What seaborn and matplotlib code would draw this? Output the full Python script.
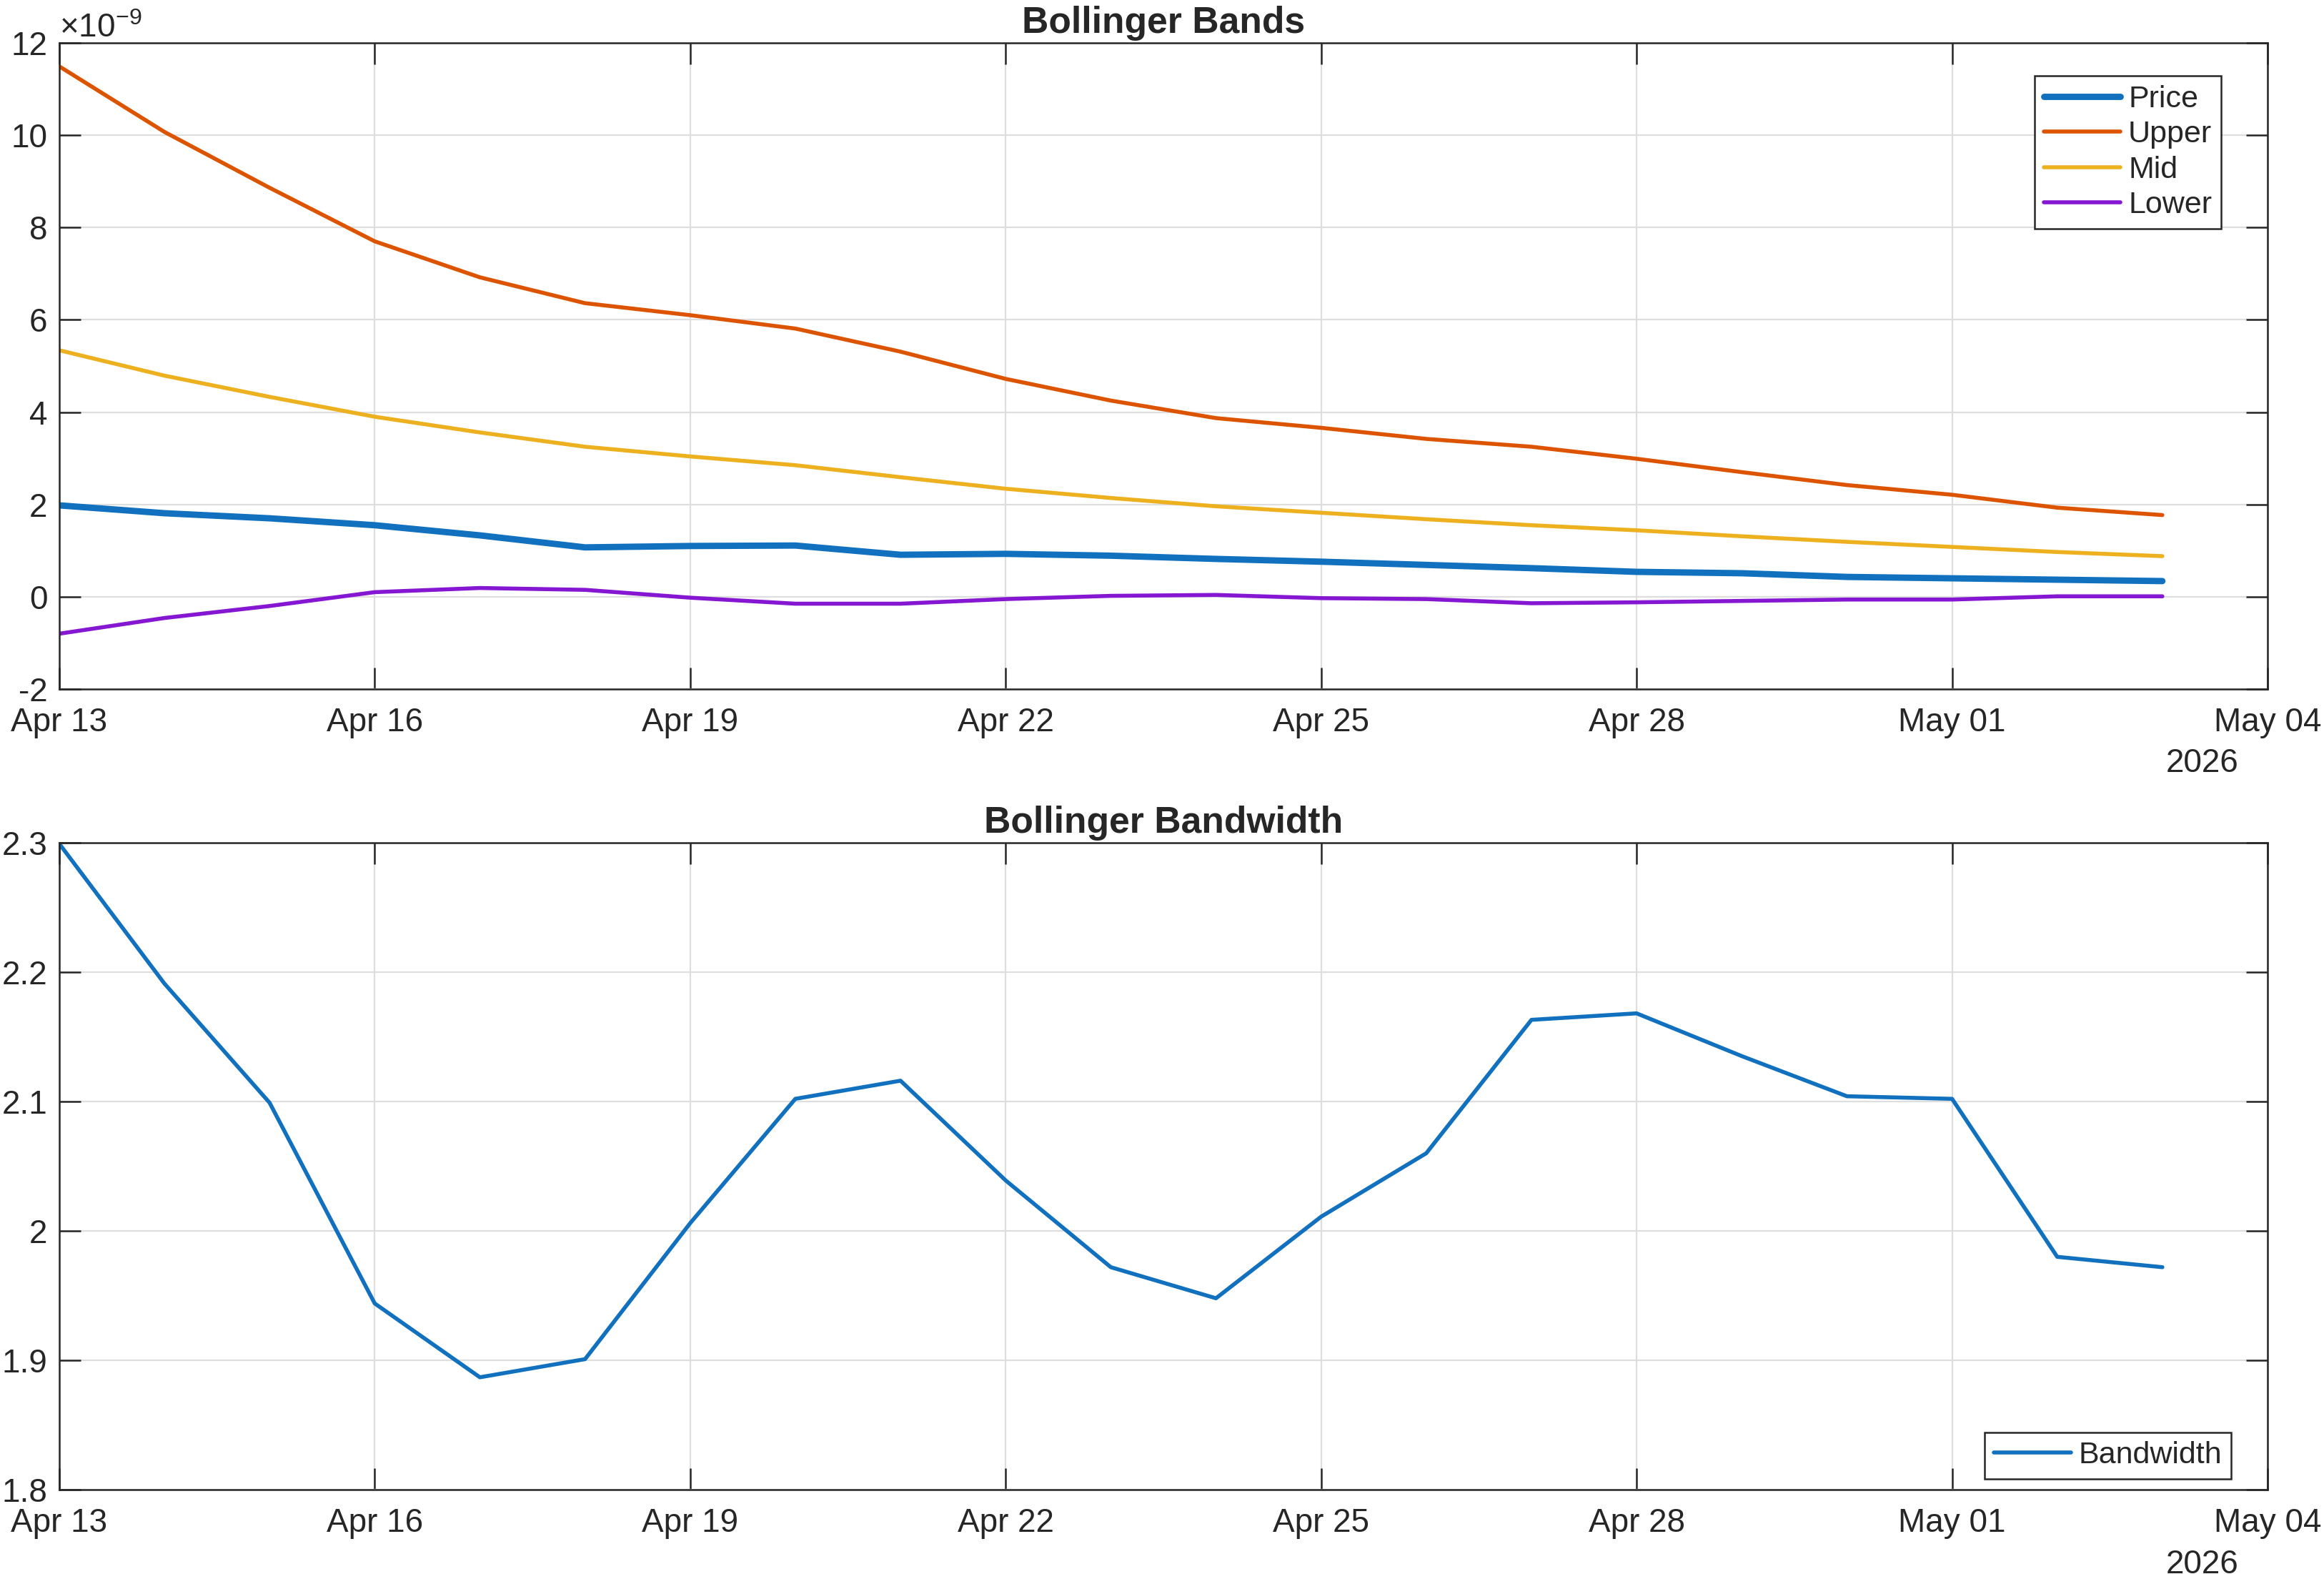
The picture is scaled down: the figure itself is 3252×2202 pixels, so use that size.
import numpy as np
import pandas as pd
import matplotlib
matplotlib.use("Agg")
import matplotlib.pyplot as plt
import matplotlib.dates as mdates
from matplotlib.ticker import ScalarFormatter, FuncFormatter, MultipleLocator
import seaborn as sns

# Data (band values in units of 1e-9)
dates = pd.date_range("2026-04-13", "2026-05-03", freq="D")
price = [1.98, 1.81, 1.70, 1.55, 1.33, 1.07, 1.10, 1.11, 0.91, 0.93, 0.89,
         0.82, 0.76, 0.69, 0.62, 0.54, 0.51, 0.43, 0.40, 0.37, 0.34]
upper = [11.49, 10.07, 8.86, 7.70, 6.92, 6.36, 6.10, 5.81, 5.31, 4.72, 4.25,
         3.87, 3.66, 3.42, 3.25, 2.99, 2.70, 2.42, 2.21, 1.93, 1.77]
mid = [5.34, 4.79, 4.33, 3.90, 3.56, 3.25, 3.04, 2.85, 2.59, 2.34, 2.14,
       1.96, 1.82, 1.68, 1.55, 1.44, 1.31, 1.19, 1.08, 0.97, 0.88]
lower = [-0.80, -0.46, -0.20, 0.10, 0.19, 0.15, -0.02, -0.15, -0.15, -0.05, 0.02,
         0.04, -0.03, -0.05, -0.14, -0.12, -0.09, -0.06, -0.06, 0.01, 0.01]
bandwidth = [2.299, 2.191, 2.099, 1.944, 1.887, 1.901, 2.006, 2.102, 2.116, 2.039, 1.972,
             1.948, 2.011, 2.060, 2.163, 2.168, 2.135, 2.104, 2.102, 1.980, 1.972]

scale = 1e-9
df = pd.DataFrame({
    "date": dates,
    "Price": np.array(price) * scale,
    "Upper": np.array(upper) * scale,
    "Mid": np.array(mid) * scale,
    "Lower": np.array(lower) * scale,
    "Bandwidth": bandwidth,
})

colors = {"Price": "#1171BE", "Upper": "#DD5400", "Mid": "#EDB120",
          "Lower": "#8516D1", "Bandwidth": "#1171BE"}


class ExpFormatter(ScalarFormatter):
    # keep the x10^-9 offset label but print plain ticks with a hyphen minus
    def __call__(self, x, pos=None):
        return f"{x / scale:g}"


sns.set_theme(style="white")
plt.rcParams["font.family"] = ["Liberation Sans", "DejaVu Sans"]
plt.rcParams["mathtext.fontset"] = "custom"
plt.rcParams["mathtext.rm"] = "Liberation Sans"
plt.rcParams["mathtext.it"] = "Liberation Sans:italic"
plt.rcParams["mathtext.bf"] = "Liberation Sans:bold"
plt.rcParams["axes.unicode_minus"] = False

dark = "#262626"
fs = 16.5

fig = plt.figure(figsize=(16.26, 11.01), dpi=200)
ax1 = fig.add_axes([0.0255, 0.5622, 0.9502, 0.4106])
ax2 = fig.add_axes([0.0255, 0.0534, 0.9502, 0.4114])

# Top panel: bands
for name, lw in [("Price", 3.2), ("Upper", 2.0), ("Mid", 2.0), ("Lower", 2.0)]:
    sns.lineplot(data=df, x="date", y=name, ax=ax1, color=colors[name],
                 linewidth=lw, label=name)

# Bottom panel: bandwidth
sns.lineplot(data=df, x="date", y="Bandwidth", ax=ax2, color=colors["Bandwidth"],
             linewidth=2.0, label="Bandwidth")

x0 = pd.Timestamp("2026-04-13")
x1 = pd.Timestamp("2026-05-04")

for ax in (ax1, ax2):
    ax.set_xlim(x0, x1)
    ax.xaxis.set_major_locator(mdates.DayLocator(bymonthday=[1, 4, 13, 16, 19, 22, 25, 28]))
    ax.xaxis.set_major_formatter(mdates.DateFormatter("%b %d"))
    ax.set_xlabel("")
    ax.set_ylabel("")
    ax.grid(True, color="#DEDEDE", linewidth=0.8)
    ax.set_axisbelow(True)
    for sp in ax.spines.values():
        sp.set_color(dark)
        sp.set_linewidth(0.9)
    ax.tick_params(direction="in", length=10.8, width=0.9, color=dark,
                   labelcolor=dark, labelsize=fs, top=True, right=True,
                   bottom=True, left=True)
    ax.tick_params(axis="x", pad=9)
    ax.tick_params(axis="y", pad=6)
    ax.text(0.987, -0.091, "2026", transform=ax.transAxes, ha="right", va="top",
            fontsize=fs, color=dark)

ax1.set_ylim(-2e-9, 12e-9)
ax1.yaxis.set_major_locator(MultipleLocator(2e-9))
sf = ExpFormatter(useMathText=True)
sf.set_powerlimits((-9, -9))
ax1.yaxis.set_major_formatter(sf)
ax1.yaxis.get_offset_text().set_fontsize(16.5)
ax1.yaxis.get_offset_text().set_color(dark)

ax2.set_ylim(1.8, 2.3)
ax2.yaxis.set_major_locator(MultipleLocator(0.1))
ax2.yaxis.set_major_formatter(FuncFormatter(lambda v, p: f"{v:g}"))

ax1.set_title("Bollinger Bands", fontsize=18.6, fontweight="bold", color=dark, pad=5)
ax2.set_title("Bollinger Bandwidth", fontsize=18.6, fontweight="bold", color=dark, pad=5)

leg_kw = dict(fontsize=15.5, frameon=True, fancybox=False, framealpha=1,
              edgecolor=dark, borderaxespad=0, handlelength=2.5,
              handletextpad=0.25, borderpad=0.3)
leg1 = ax1.legend(loc="upper right", bbox_to_anchor=(0.979, 0.949),
                  labelspacing=0.22, **leg_kw)
leg2 = ax2.legend(loc="lower right", bbox_to_anchor=(0.9835, 0.0166),
                  labelspacing=0.22, **leg_kw)
for leg in (leg1, leg2):
    leg.get_frame().set_linewidth(0.9)
    for t in leg.get_texts():
        t.set_color(dark)

fig.savefig("out.png", dpi=200, facecolor="white")
